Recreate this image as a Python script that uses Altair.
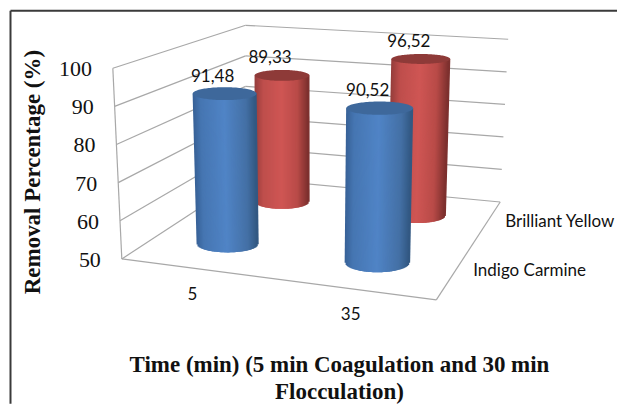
import math
import altair as alt
import pandas as pd

# ---- values ----
times = ["5", "35"]
series = ["Indigo Carmine", "Brilliant Yellow"]
indigo = [91.48, 90.52]
yellow = [89.33, 96.52]
ticks = [50, 60, 70, 80, 90, 100]
y_title = "Removal Percentage (%)"
x_title = ["Time (min) (5 min Coagulation and 30 min", "Flocculation)"]

# ---- 3-D projection of the Excel-style box, in page pixels ----
A, B, C, D = (122, 259), (437, 300), (501, 202), (246, 178)   # floor
TOP_A, TOP_D, TOP_C = (113, 68), (246, 25), (509, 39)         # value 100
LO, HI = 50.0, 100.0


def mix(p, q, t):
    return (p[0] + (q[0] - p[0]) * t, p[1] + (q[1] - p[1]) * t)


def bilin(a, b, c, d, u, v):
    return (a + (b - a) * u) * (1 - v) + (d + (c - d) * u) * v


def floor(u, v):
    f, b = mix(A, B, u), mix(D, C, u)
    return mix(f, b, v)


def column(u, v, value):
    """Geometry of one cylinder, from its category position and its value."""
    bx, by = floor(u, v)
    by -= 3.5
    scale = bilin(187.75, 206.75, 161.75, 146.75, u, v)  # px for the 50-100 span
    lean = bilin(-7.5, 4.4, 6.5, -0.2, u, v)
    top_y = by - scale * (value - LO) / (HI - LO)
    return dict(
        bx=bx, by=by, tx=bx + lean, ty=top_y,
        brx=bilin(31.85, 35.45, 27.85, 25.05, u, v), trx=bilin(33.6, 36.1, 28.6, 24, u, v),
        bry=bilin(7.4, 11.9, 5.6, 6.9, u, v), try_=bilin(6.7, 7.8, 3.7, 5.4, u, v),
    )


BLUE = [(0, (56, 98, 152)), (.12, (70, 118, 178)), (.5, (80, 132, 198)), (.85, (68, 112, 165)), (1, (50, 88, 130))]
RED = [(0, (150, 62, 60)), (.15, (190, 78, 76)), (.5, (207, 86, 84)), (.8, (185, 75, 72)), (1, (125, 48, 46))]
TOPS = {"blue": "#3e689b", "red": "#8e3a38"}


def shade(stops, t):
    for (t0, c0), (t1, c1) in zip(stops, stops[1:]):
        if t <= t1:
            k = (t - t0) / (t1 - t0)
            return "#%02x%02x%02x" % tuple(round(a + (b - a) * k) for a, b in zip(c0, c1))
    return "#%02x%02x%02x" % stops[-1][1]


def strips(g, stops):
    rows = []
    n = int(2 * g["brx"]) + 1
    for i in range(n + 1):
        t = i / n
        s = 2 * t - 1
        inset = 1.0
        rows.append(dict(
            x=g["tx"] - g["trx"] + inset + 2 * (g["trx"] - inset) * t, y=g["ty"],
            x2=g["bx"] - g["brx"] + inset + 2 * (g["brx"] - inset) * t,
            y2=g["by"] + g["bry"] * math.sqrt(max(0, 1 - s * s)),
            c=shade(stops, t),
        ))
    return rows


def cap(g, name, color):
    rows = []
    for i in range(61):
        a = math.pi * i / 60
        rows.append(dict(
            id=name, c=color,
            x=g["tx"] - g["trx"] * math.cos(a),
            y=g["ty"] - g["try_"] * math.sin(a),
            y2=g["ty"] + g["try_"] * math.sin(a),
        ))
    return rows


# ---- chart scales: page pixels ----
xs = alt.Scale(domain=[8, 618], range=[0, 610], nice=False, zero=False)
ys = alt.Scale(domain=[404, 8], range=[396, 0], nice=False, zero=False)
X = lambda f="x": alt.X(f, type="quantitative", scale=xs, axis=None)
Y = lambda f="y": alt.Y(f, type="quantitative", scale=ys, axis=None)


def segs(rows, color, width):
    return alt.Chart(pd.DataFrame(rows)).mark_rule(color=color, strokeWidth=width).encode(
        x=X(), y=Y(), x2="x2:Q", y2="y2:Q")


# ---- frame ----
grid = []
for t in ticks:
    k = (t - LO) / (HI - LO)
    p0, p1, p2 = mix(A, TOP_A, k), mix(D, TOP_D, k), mix(C, TOP_C, k)
    grid.append(dict(x=p0[0], y=p0[1], x2=p1[0], y2=p1[1]))
    grid.append(dict(x=p1[0], y=p1[1], x2=p2[0], y2=p2[1]))
grid.append(dict(x=A[0], y=A[1], x2=TOP_A[0], y2=TOP_A[1]))
grid.append(dict(x=A[0], y=A[1], x2=B[0], y2=B[1]))
grid.append(dict(x=B[0], y=B[1], x2=C[0], y2=C[1]))

border = [dict(x=10.5, y=10.5, x2=618, y2=10.5), dict(x=10.5, y=10.5, x2=10.5, y2=404)]

# ---- cylinders ----
us = [0.25, 0.75]
layers = [segs(border, "#3a3a3a", 2), segs(grid, "#a8a8a8", 1.2)]
labels = []
for vals, v, stops, col in [(yellow, 0.75, RED, "red"), (indigo, 0.25, BLUE, "blue")]:
    body, caps = [], []
    for u, val in zip(us, vals):
        g = column(u, v, val)
        body += strips(g, stops)
        caps += cap(g, f"{col}{u}", TOPS[col])
        labels.append(dict(x=g["tx"] - 12, y=g["ty"] - 17, t=f"{val:.2f}".replace(".", ",")))
    layers.append(alt.Chart(pd.DataFrame(body)).mark_rule(strokeWidth=2.2, strokeCap="butt").encode(
        x=X(), y=Y(), x2="x2:Q", y2="y2:Q", color=alt.Color("c:N", scale=None)))
    layers.append(alt.Chart(pd.DataFrame(caps)).mark_area(interpolate="linear").encode(
        x=X(), y=Y(), y2="y2:Q", detail="id:N", color=alt.Color("c:N", scale=None)))


def text(rows, **kw):
    return alt.Chart(pd.DataFrame(rows)).mark_text(baseline="middle", color="#111111", **kw).encode(
        x=X(), y=Y(), text="t:N")


# ---- value axis labels sit just left of the front edge ----
tick_rows = []
for t in ticks:
    k = (t - LO) / (HI - LO)
    p = mix(A, TOP_A, k)
    tick_rows.append(dict(x=p[0] - 21, y=p[1] + 1, t=str(t)))

layers += [
    text(labels, font="Lato", fontSize=17, align="center"),
    text(tick_rows, font="Liberation Serif", fontSize=22, align="right"),
    text([dict(x=mix(A, B, .25)[0] - 8, y=295, t=times[0]), dict(x=mix(A, B, .75)[0] - 7, y=315, t=times[1])],
         font="Lato", fontSize=17, align="center"),
    text([dict(x=474, y=271, t=series[0]), dict(x=506, y=222, t=series[1])],
         font="Lato", fontSize=17, align="left"),
    text([dict(x=33, y=172, t=y_title)], font="Liberation Serif", fontSize=23, fontWeight="bold",
         align="center", angle=270),
    text([dict(x=340, y=365, t=x_title[0]), dict(x=340, y=392, t=x_title[1])],
         font="Liberation Serif", fontSize=23, fontWeight="bold", align="center"),
]

chart = alt.layer(*layers).properties(width=610, height=396, padding=0).configure_view(stroke=None)
chart.save("out.html", embed_options={"renderer": "svg", "actions": False})
